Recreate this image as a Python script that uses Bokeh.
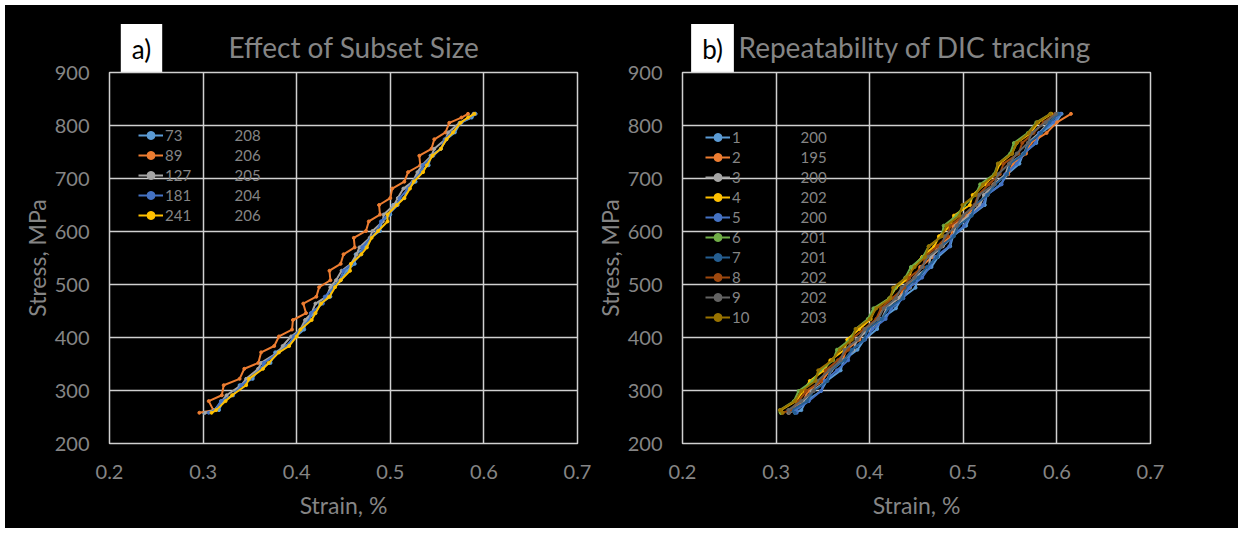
from bokeh.plotting import figure
from bokeh.models import Legend, LegendItem, Label, FixedTicker
from bokeh.layouts import row, column
from bokeh.embed import file_html
from bokeh.resources import INLINE

FONT = "Lato"
TXT = "#858585"
GRID = "#d0d0d0"

x_ticks = [0.2, 0.3, 0.4, 0.5, 0.6, 0.7]
y_ticks = [200, 300, 400, 500, 600, 700, 800, 900]

# ---------------- panel a: effect of subset size ----------------
stress_a = [258, 263, 280, 291, 310, 322, 341, 352, 372, 384, 402, 415, 433, 446, 464,
            477, 495, 508, 526, 539, 557, 570, 588, 601, 619, 632, 650, 663, 681, 694,
            712, 725, 743, 756, 774, 787, 805, 815, 822]
strain_73 = [0.301, 0.317, 0.321, 0.332, 0.339, 0.353, 0.359, 0.372, 0.377, 0.389, 0.399, 0.408, 0.410,
             0.420, 0.425, 0.436, 0.437, 0.447, 0.453, 0.462, 0.463, 0.473, 0.479, 0.489, 0.491, 0.500,
             0.503, 0.515, 0.518, 0.527, 0.530, 0.541, 0.543, 0.554, 0.560, 0.569, 0.575, 0.587, 0.591]
strain_89 = [0.296, 0.311, 0.306, 0.320, 0.322, 0.339, 0.344, 0.359, 0.362, 0.376, 0.381, 0.395, 0.396,
             0.410, 0.407, 0.421, 0.424, 0.436, 0.435, 0.447, 0.450, 0.462, 0.461, 0.474, 0.477, 0.489,
             0.488, 0.500, 0.502, 0.515, 0.519, 0.532, 0.531, 0.544, 0.547, 0.559, 0.563, 0.576, 0.583]
strain_127 = [0.302, 0.312, 0.320, 0.325, 0.341, 0.346, 0.359, 0.362, 0.380, 0.385, 0.394, 0.404, 0.409,
              0.416, 0.420, 0.432, 0.436, 0.442, 0.448, 0.458, 0.464, 0.467, 0.478, 0.481, 0.492, 0.493,
              0.504, 0.508, 0.514, 0.524, 0.529, 0.534, 0.544, 0.547, 0.559, 0.562, 0.574, 0.584, 0.589]
strain_181 = [0.306, 0.313, 0.319, 0.332, 0.341, 0.350, 0.362, 0.365, 0.381, 0.390, 0.397, 0.404, 0.414,
              0.415, 0.428, 0.430, 0.440, 0.446, 0.450, 0.459, 0.469, 0.470, 0.479, 0.486, 0.490, 0.498,
              0.508, 0.510, 0.519, 0.524, 0.533, 0.535, 0.546, 0.554, 0.558, 0.566, 0.576, 0.584, 0.591]
strain_241 = [0.309, 0.314, 0.324, 0.331, 0.346, 0.349, 0.364, 0.370, 0.381, 0.392, 0.400, 0.404, 0.416,
              0.420, 0.426, 0.435, 0.441, 0.447, 0.457, 0.458, 0.469, 0.475, 0.480, 0.487, 0.497, 0.497,
              0.507, 0.515, 0.521, 0.525, 0.535, 0.539, 0.545, 0.554, 0.560, 0.567, 0.575, 0.583, 0.590]
names_a = ["73", "89", "127", "181", "241"]
moduli_a = ["208", "206", "205", "204", "206"]
colors_a = ["#5B9BD5", "#ED7D31", "#A5A5A5", "#4472C4", "#FFC000"]
strains_a = [strain_73, strain_89, strain_127, strain_181, strain_241]

# ---------------- panel b: repeatability ----------------
stress_b = [258, 263, 280, 299, 318, 338, 357, 377, 396, 416, 435, 455, 474, 494, 513, 533,
            552, 572, 591, 611, 630, 650, 669, 689, 708, 728, 747, 767, 786, 806, 822]
strain_1 = [0.320, 0.327, 0.332, 0.348, 0.354, 0.369, 0.372, 0.387, 0.394, 0.408, 0.412, 0.428, 0.434, 0.449,
            0.451, 0.466, 0.473, 0.486, 0.489, 0.503, 0.508, 0.523, 0.525, 0.540, 0.547, 0.560, 0.564, 0.578,
            0.583, 0.599, 0.605]
strain_2 = [0.314, 0.314, 0.329, 0.334, 0.349, 0.357, 0.371, 0.375, 0.389, 0.395, 0.408, 0.414, 0.431, 0.437,
            0.448, 0.454, 0.467, 0.473, 0.487, 0.489, 0.504, 0.513, 0.526, 0.532, 0.548, 0.553, 0.567, 0.572,
            0.589, 0.600, 0.615]
strain_3 = [0.313, 0.321, 0.330, 0.338, 0.354, 0.359, 0.372, 0.383, 0.386, 0.400, 0.413, 0.418, 0.430, 0.443,
            0.448, 0.463, 0.465, 0.478, 0.489, 0.492, 0.506, 0.518, 0.522, 0.533, 0.545, 0.549, 0.565, 0.569,
            0.581, 0.592, 0.602]
strain_4 = [0.305, 0.305, 0.321, 0.329, 0.336, 0.351, 0.358, 0.373, 0.376, 0.389, 0.401, 0.406, 0.421, 0.428,
            0.442, 0.446, 0.456, 0.469, 0.474, 0.486, 0.490, 0.507, 0.510, 0.523, 0.534, 0.539, 0.552, 0.557,
            0.572, 0.580, 0.594]
strain_5 = [0.322, 0.321, 0.335, 0.348, 0.352, 0.365, 0.377, 0.381, 0.395, 0.403, 0.417, 0.423, 0.436, 0.442,
            0.456, 0.464, 0.470, 0.485, 0.488, 0.501, 0.508, 0.521, 0.525, 0.541, 0.545, 0.557, 0.565, 0.577,
            0.581, 0.596, 0.604]
strain_6 = [0.305, 0.304, 0.319, 0.324, 0.339, 0.347, 0.361, 0.365, 0.379, 0.385, 0.398, 0.404, 0.421, 0.427,
            0.438, 0.444, 0.457, 0.463, 0.477, 0.479, 0.493, 0.501, 0.513, 0.518, 0.533, 0.537, 0.550, 0.554,
            0.569, 0.578, 0.593]
strain_7 = [0.320, 0.317, 0.333, 0.340, 0.355, 0.358, 0.373, 0.381, 0.394, 0.398, 0.413, 0.420, 0.435, 0.438,
            0.452, 0.461, 0.472, 0.476, 0.490, 0.495, 0.509, 0.512, 0.526, 0.534, 0.547, 0.550, 0.565, 0.570,
            0.583, 0.592, 0.602]
strain_8 = [0.307, 0.315, 0.324, 0.332, 0.348, 0.353, 0.366, 0.377, 0.380, 0.394, 0.407, 0.412, 0.424, 0.437,
            0.442, 0.457, 0.459, 0.472, 0.483, 0.486, 0.500, 0.512, 0.516, 0.527, 0.539, 0.543, 0.559, 0.563,
            0.575, 0.586, 0.598]
strain_9 = [0.314, 0.313, 0.327, 0.340, 0.344, 0.357, 0.369, 0.373, 0.387, 0.395, 0.409, 0.415, 0.428, 0.434,
            0.448, 0.456, 0.462, 0.477, 0.480, 0.493, 0.500, 0.513, 0.517, 0.533, 0.537, 0.549, 0.557, 0.569,
            0.573, 0.588, 0.599]
strain_10 = [0.307, 0.304, 0.320, 0.327, 0.342, 0.345, 0.360, 0.368, 0.381, 0.385, 0.400, 0.407, 0.422, 0.425,
             0.439, 0.448, 0.459, 0.463, 0.477, 0.482, 0.496, 0.499, 0.513, 0.521, 0.534, 0.537, 0.552, 0.557,
             0.570, 0.579, 0.593]
names_b = ["1", "2", "3", "4", "5", "6", "7", "8", "9", "10"]
moduli_b = ["200", "195", "200", "202", "200", "201", "201", "202", "202", "203"]
colors_b = ["#5B9BD5", "#ED7D31", "#A5A5A5", "#FFC000", "#4472C4",
            "#70AD47", "#255E91", "#9E480E", "#636363", "#997300"]
strains_b = [strain_1, strain_2, strain_3, strain_4, strain_5,
             strain_6, strain_7, strain_8, strain_9, strain_10]

tags = ["a)", "b)"]
titles = ["Effect of Subset Size", "Repeatability of DIC tracking"]

HEAD_H = 67
OVERLAP = 20
PLOT_H = 476
ROW_H = 20


def make_panel(width, left, right, stress, strains, names, moduli, colors, leg_x, leg_y, col2_x):
    p = figure(width=width, height=PLOT_H, x_range=(0.2, 0.7), y_range=(200, 900),
               output_backend="svg", toolbar_location=None,
               min_border_left=left, min_border_right=right,
               min_border_top=OVERLAP, min_border_bottom=85,
               background_fill_color="black", border_fill_alpha=0,
               outline_line_color=GRID, outline_line_width=1.5,
               x_axis_label="Strain, %", y_axis_label="Stress, MPa")
    p.xaxis.ticker = FixedTicker(ticks=x_ticks)
    p.yaxis.ticker = FixedTicker(ticks=y_ticks)
    for ax in (p.xaxis[0], p.yaxis[0]):
        ax.axis_line_color = None
        ax.major_tick_line_color = None
        ax.minor_tick_line_color = None
        ax.major_tick_out = 0
        ax.major_tick_in = 0
        ax.major_label_text_color = TXT
        ax.major_label_text_font = FONT
        ax.major_label_text_font_size = "20px"
        ax.axis_label_text_color = TXT
        ax.axis_label_text_font = FONT
        ax.axis_label_text_font_size = "23px"
        ax.axis_label_text_font_style = "normal"
    p.xaxis.major_label_standoff = 21
    p.xaxis.axis_label_standoff = 9
    p.yaxis.major_label_standoff = 20
    p.yaxis.axis_label_standoff = 1
    p.grid.grid_line_color = GRID
    p.grid.grid_line_width = 1.5

    items = []
    for name, s, c in zip(names, strains, colors):
        lr = p.line(s, stress, line_color=c, line_width=2)
        sr = p.scatter(s, stress, size=3, fill_color=c, line_color=c, marker="circle")
        items.append(LegendItem(label=name, renderers=[lr, sr]))
    leg = Legend(items=items, location=(leg_x, leg_y), glyph_width=25, glyph_height=ROW_H,
                 label_height=ROW_H, spacing=0, padding=0, margin=0, label_standoff=2,
                 background_fill_alpha=0, border_line_color=None,
                 label_text_color=TXT, label_text_font=FONT, label_text_font_size="15px")
    p.add_layout(leg)
    n = len(names)
    for k, m in enumerate(moduli):
        p.add_layout(Label(x=col2_x, y=leg_y + ROW_H * n - ROW_H / 2 - ROW_H * k,
                           x_units="screen", y_units="screen", text=m,
                           text_baseline="middle", text_color=TXT, text_font=FONT,
                           text_font_size="15px"))
    return p


# header strip with the panel tags and titles (kept inside its own frame)
head = figure(width=1233, height=HEAD_H, x_range=(0, 1), y_range=(0, 1),
              output_backend="svg", toolbar_location=None,
              x_axis_location=None, y_axis_location=None,
              min_border_left=0, min_border_right=0, min_border_top=0, min_border_bottom=0,
              background_fill_color="black", border_fill_color="black",
              outline_line_color=None)
head.grid.visible = False
for tag, title, tag_x, title_x in zip(tags, titles, [136, 707], [223, 733]):
    head.add_layout(Label(x=tag_x, y=23.5, x_units="screen", y_units="screen", text=tag,
                          text_align="center", text_baseline="middle", text_color="black",
                          text_font=FONT, text_font_size="26px",
                          background_fill_color="white", padding=(11, 9)))
    head.add_layout(Label(x=title_x, y=26, x_units="screen", y_units="screen", text=title,
                          text_baseline="middle", text_color=TXT, text_font=FONT,
                          text_font_size="28px"))

pa = make_panel(587, 104, 15, stress_a, strains_a, names_a, moduli_a, colors_a, 29, 218, 125)
pb = make_panel(646, 90, 88, stress_b, strains_b, names_b, moduli_b, colors_b, 23, 116, 118)

layout = column(head, row(pa, pb, spacing=0, margin=(-OVERLAP, 0, 0, 0)),
                spacing=0, margin=(5, 5, 5, 5), styles={"background-color": "black"})
open("out.html", "w").write(file_html(layout, INLINE))
